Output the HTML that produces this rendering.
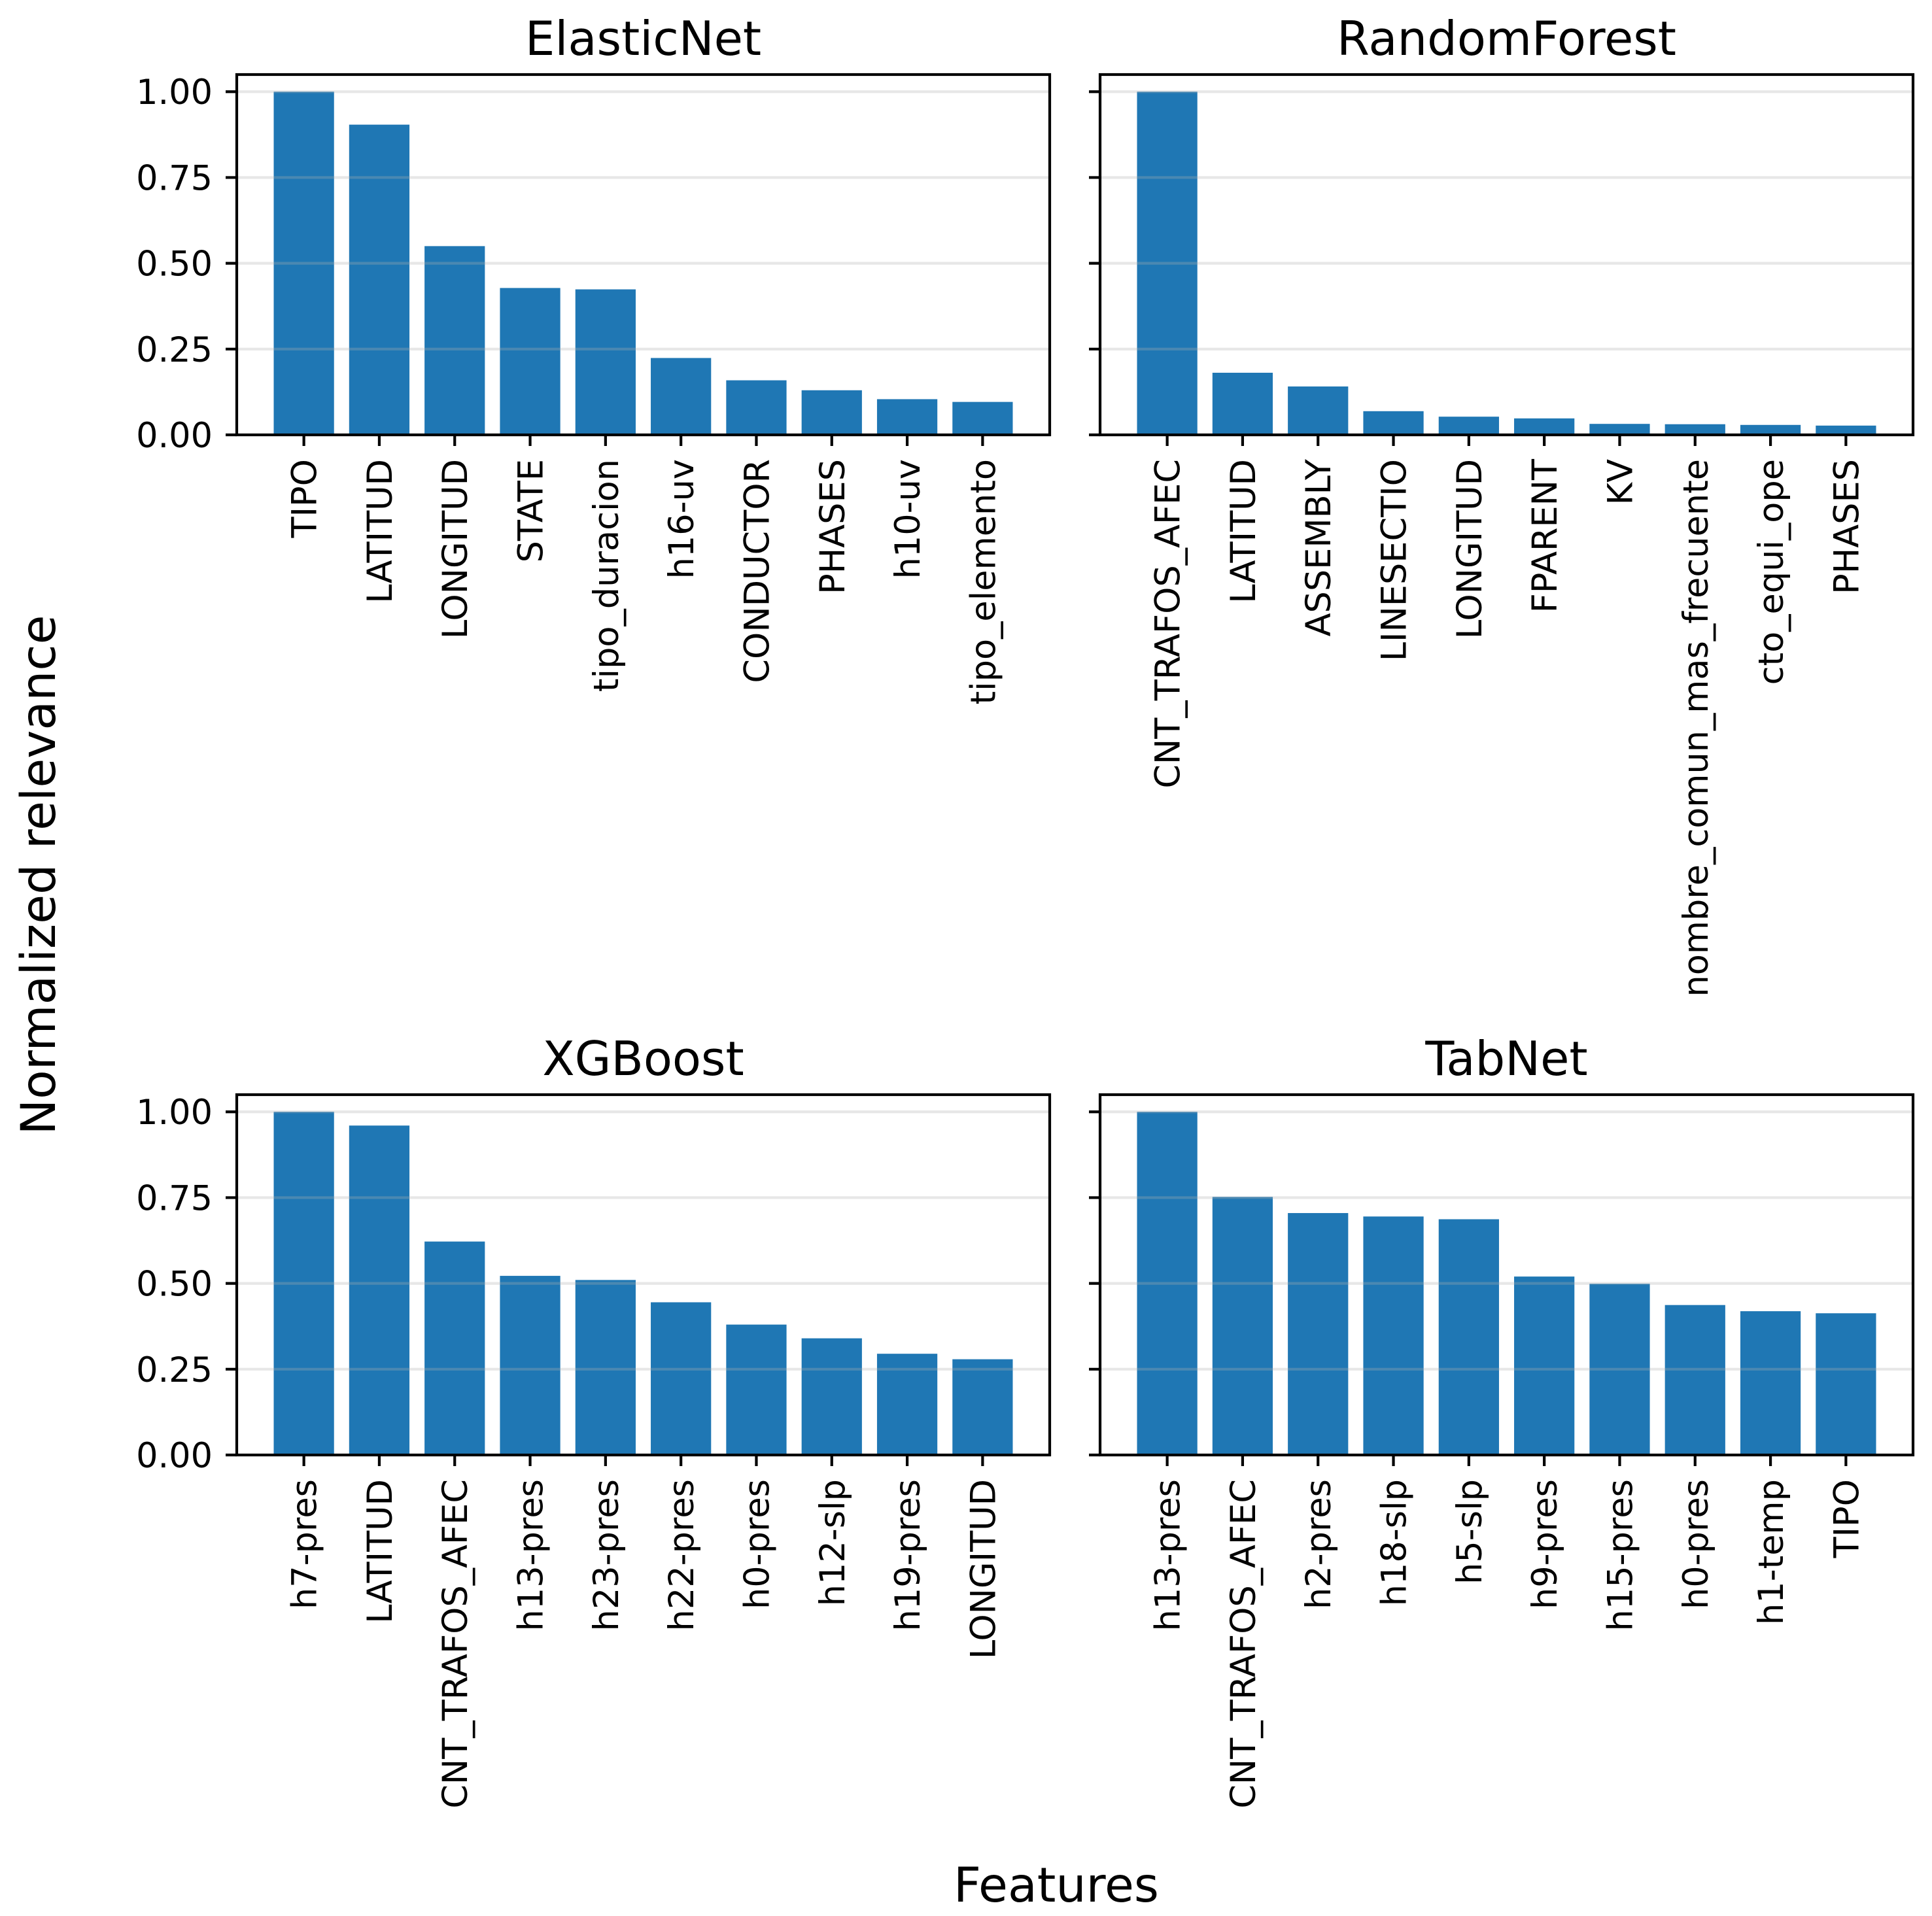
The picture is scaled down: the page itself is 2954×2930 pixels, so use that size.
<!DOCTYPE html>
<html><head><meta charset="utf-8"><style>
html,body{margin:0;padding:0;background:#fff;}
svg{display:block;font-family:"DejaVu Sans","Liberation Sans",sans-serif;}
</style></head><body>
<svg id="fig" width="2954" height="2930" viewBox="0 0 2954 2930" xmlns="http://www.w3.org/2000/svg">
<rect width="2954" height="2930" fill="#fff"/>
<text x="0" y="0" font-size="73" text-anchor="middle" transform="translate(84,1338) rotate(-90)">Normalized relevance</text>
<text x="1615" y="2908" font-size="73" text-anchor="middle">Features</text>
</svg>
<script>
const titles = ["ElasticNet","RandomForest","XGBoost","TabNet"];
const enLabels = ["TIPO","LATITUD","LONGITUD","STATE","tipo_duracion","h16-uv","CONDUCTOR","PHASES","h10-uv","tipo_elemento"];
const enValues = [1.00,0.904,0.55,0.428,0.424,0.224,0.159,0.130,0.104,0.096];
const rfLabels = ["CNT_TRAFOS_AFEC","LATITUD","ASSEMBLY","LINESECTIO","LONGITUD","FPARENT","KV","nombre_comun_mas_frecuente","cto_equi_ope","PHASES"];
const rfValues = [1.00,0.181,0.141,0.069,0.053,0.048,0.032,0.031,0.029,0.027];
const xgLabels = ["h7-pres","LATITUD","CNT_TRAFOS_AFEC","h13-pres","h23-pres","h22-pres","h0-pres","h12-slp","h19-pres","LONGITUD"];
const xgValues = [1.00,0.96,0.622,0.522,0.51,0.445,0.38,0.34,0.295,0.279];
const tbLabels = ["h13-pres","CNT_TRAFOS_AFEC","h2-pres","h18-slp","h5-slp","h9-pres","h15-pres","h0-pres","h1-temp","TIPO"];
const tbValues = [1.00,0.752,0.705,0.695,0.687,0.52,0.499,0.437,0.419,0.413];
const yTicks = [0,0.25,0.5,0.75,1.0];
const yTickLabels = ["0.00","0.25","0.50","0.75","1.00"];

const NS="http://www.w3.org/2000/svg";
const svg=document.getElementById('fig');
function mk(tag,attrs,parent){const e=document.createElementNS(NS,tag);for(const k in attrs)e.setAttribute(k,attrs[k]);(parent||svg).appendChild(e);return e;}
const panels=[
 {t:titles[0],labels:enLabels,values:enValues,x0:362,y0:114,showY:true},
 {t:titles[1],labels:rfLabels,values:rfValues,x0:1682,y0:114,showY:false},
 {t:titles[2],labels:xgLabels,values:xgValues,x0:362,y0:1674,showY:true},
 {t:titles[3],labels:tbLabels,values:tbValues,x0:1682,y0:1674,showY:false}];
const W=1243,H=551,YMAX=1.05,FS=52.5,LW=4.2;
panels.forEach((p,pi)=>{
  const g=mk('g',{});
  
  
  const n=p.labels.length;
  const xmin=-0.4-0.05*(n-0.2), xmax=n-1+0.4+0.05*(n-0.2);
  const xs=v=>p.x0+(v-xmin)/(xmax-xmin)*W;
  const ys=v=>p.y0+H-(v/YMAX)*H;
  p.values.forEach((v,i)=>{
    const r=mk('rect',{x:xs(i-0.4),y:ys(v),width:xs(i+0.4)-xs(i-0.4),height:ys(0)-ys(v),fill:'#1f77b4'},g);
    
    
  });
  yTicks.forEach((t,i)=>{
    const gl=mk('line',{x1:p.x0,x2:p.x0+W,y1:ys(t),y2:ys(t),stroke:'#b0b0b0','stroke-opacity':0.3,'stroke-width':4.2},g);
    
    
    mk('line',{x1:p.x0-17,x2:p.x0,y1:ys(t),y2:ys(t),stroke:'#000','stroke-width':LW},g);
    if(p.showY){
      const tl=mk('text',{x:p.x0-37,y:ys(t)+19,'font-size':FS,'text-anchor':'end'},g);
      tl.textContent=yTickLabels[i];
      
      
    }
  });
  p.labels.forEach((l,i)=>{
    const x=xs(i);
    mk('line',{x1:x,x2:x,y1:p.y0+H,y2:p.y0+H+17,stroke:'#000','stroke-width':LW},g);
    const tl=mk('text',{x:0,y:0,'font-size':FS,'text-anchor':'end',transform:`translate(${x+19},${p.y0+H+37}) rotate(-90)`},g);
    tl.textContent=l;
    
    
  });
  const fr=mk('rect',{x:p.x0,y:p.y0,width:W,height:H,fill:'none',stroke:'#000','stroke-width':LW},g);
  
  
  const tt=mk('text',{x:p.x0+W/2,y:p.y0-30,'font-size':72,'text-anchor':'middle'},g);
  tt.textContent=p.t;
  
  
});
</script>
</body></html>
